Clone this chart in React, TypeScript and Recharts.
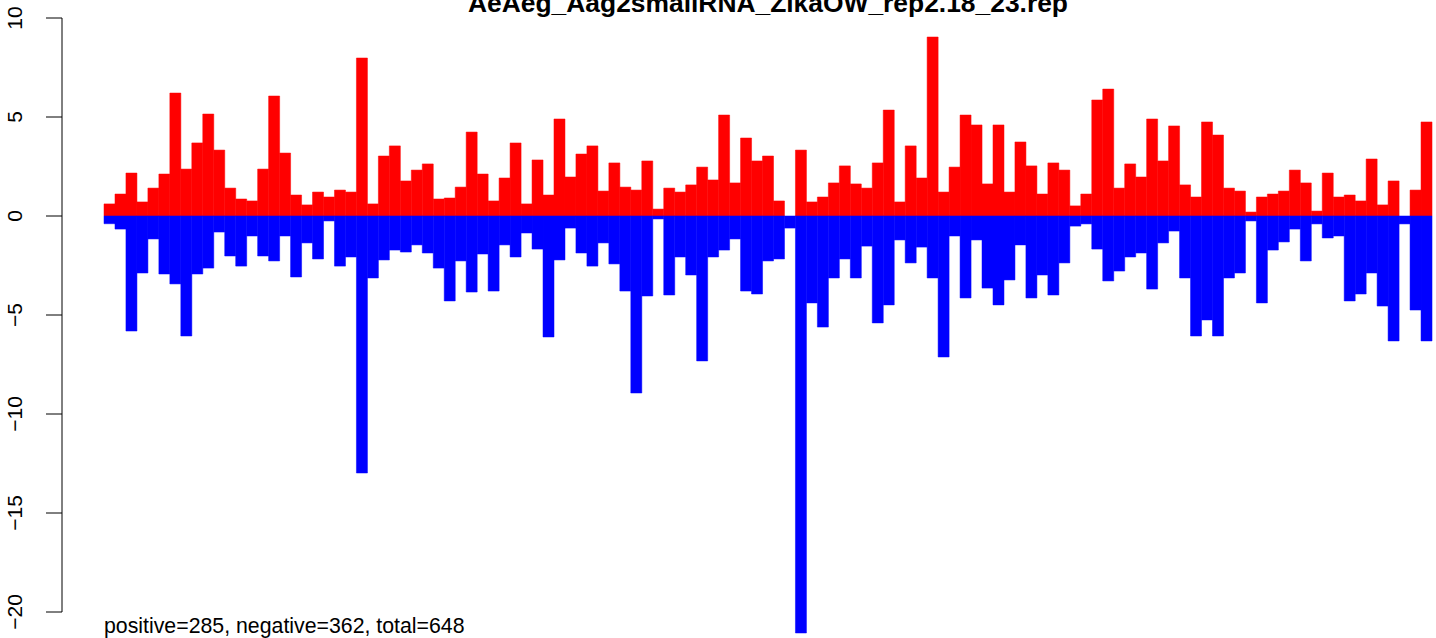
import React from "react";
import { BarChart, Bar, XAxis, YAxis, ComposedChart } from "recharts";

const positions: number[] = Array.from({ length: 121 }, (_, i) => i + 1);

const positiveValues: number[] = [
  0.61, 1.11, 2.17, 0.71, 1.41, 2.12, 6.21, 2.37, 3.69, 5.15,
  3.33, 1.41, 0.86, 0.76, 2.37, 6.06, 3.18, 1.06, 0.56, 1.21,
  0.96, 1.31, 1.21, 7.98, 0.61, 3.03, 3.54, 1.77, 2.32, 2.63,
  0.86, 0.91, 1.46, 4.24, 2.12, 0.76, 1.92, 3.69, 0.61, 2.83,
  1.06, 4.9, 1.97, 3.13, 3.54, 1.26, 2.68, 1.46, 1.31, 2.78,
  0.35, 1.41, 1.21, 1.57, 2.47, 1.82, 5.1, 1.67, 3.94, 2.78,
  3.03, 0.76, 0, 3.33, 0.71, 0.96, 1.67, 2.53, 1.62, 1.41,
  2.68, 5.35, 0.71, 3.54, 1.92, 9.04, 1.21, 2.47, 5.1, 4.6,
  1.62, 4.6, 1.21, 3.74, 2.53, 1.11, 2.68, 2.32, 0.51, 1.11,
  5.86, 6.41, 1.41, 2.63, 1.97, 4.9, 2.78, 4.55, 1.57, 0.96,
  4.75, 4.09, 1.41, 1.26, 0.2, 0.96, 1.11, 1.26, 2.32, 1.67,
  0.25, 2.17, 0.96, 1.06, 0.76, 2.88, 0.56, 1.77, 0, 1.31,
  4.75,
];

const negativeValues: number[] = [
  -0.39, -0.66, -5.81, -2.88, -1.16, -2.93, -3.43, -6.06, -2.93, -2.63,
  -0.81, -2.02, -2.53, -1.01, -2.02, -2.27, -1.01, -3.08, -1.36, -2.17,
  -0.25, -2.53, -2.07, -12.98, -3.13, -2.22, -1.72, -1.82, -1.46, -1.87,
  -2.63, -4.29, -2.27, -3.84, -1.92, -3.79, -1.46, -2.07, -0.86, -1.67,
  -6.11, -2.22, -0.61, -1.87, -2.53, -1.36, -2.42, -3.79, -8.94, -4.04,
  -0.15, -3.99, -2.07, -2.98, -7.32, -2.07, -1.72, -1.16, -3.79, -3.94,
  -2.27, -2.17, -0.61, -21.06, -4.39, -5.61, -3.13, -2.17, -3.13, -1.52,
  -5.4, -4.49, -1.21, -2.37, -1.57, -3.13, -7.12, -1.01, -4.14, -1.21,
  -3.64, -4.49, -3.23, -1.46, -4.14, -2.98, -3.99, -2.37, -0.51, -0.4,
  -1.67, -3.28, -2.78, -2.07, -1.87, -3.69, -1.36, -0.76, -3.13, -6.06,
  -5.25, -6.06, -3.13, -2.88, -0.25, -4.39, -1.72, -1.31, -0.66, -2.27,
  -0.4, -1.11, -1.01, -4.29, -3.94, -2.88, -4.55, -6.31, -0.4, -4.75,
  -6.31,
];

const yTicks: number[] = [-20, -15, -10, -5, 0, 5, 10];
const titleText = "AeAeg_Aag2smallRNA_ZikaOW_rep2.18_23.rep";
const footerText = "positive=285, negative=362, total=648";

const data = positions.map((p, i) => ({
  pos: p,
  plus: positiveValues[i],
  minus: negativeValues[i],
}));

const FONT = "'Liberation Sans', Arial, Helvetica, sans-serif";
const W = 1436;
const H = 638;

const RotTick = (props: any) => {
  const { x, y, payload } = props;
  const bx = x - 22;
  const label = payload.value < 0 ? "\u2212" + Math.abs(payload.value) : String(payload.value);
  return (
    <text
      x={bx}
      y={y}
      transform={`rotate(-90, ${bx}, ${y})`}
      textAnchor="middle"
      fontFamily={FONT}
      fontSize={21}
      fill="#000"
    >
      {label}
    </text>
  );
};

export default function App() {
  return (
    <div style={{ position: "absolute", left: 0, top: 0, width: W, height: H, background: "#fff" }}>
      <div style={{ position: "absolute", left: 0, top: 0 }}>
        <BarChart
          width={W}
          height={H}
          data={data}
          margin={{ top: 0, right: 4, bottom: 0, left: 104 }}
          stackOffset="sign"
          barCategoryGap={0}
          barGap={0}
        >
          <XAxis dataKey="pos" hide />
          <YAxis hide domain={[-21.313, 10.909]} allowDataOverflow type="number" />
          <Bar
            dataKey="plus"
            stackId="s"
            fill="#ff0000"
            stroke="#ff0000"
            strokeWidth={0.5}
            isAnimationActive={false}
          />
          <Bar
            dataKey="minus"
            stackId="s"
            fill="#0000ff"
            stroke="#0000ff"
            strokeWidth={0.5}
            isAnimationActive={false}
          />
        </BarChart>
      </div>
      <div style={{ position: "absolute", left: 0, top: 0 }}>
        <ComposedChart
          width={110}
          height={H}
          data={data}
          margin={{ top: 18, right: 0, bottom: 26, left: 0 }}
        >
          <XAxis dataKey="pos" hide />
          <YAxis
            width={62}
            type="number"
            domain={[-20, 10]}
            allowDataOverflow
            ticks={yTicks}
            interval={0}
            tickSize={16}
            tickMargin={2}
            stroke="#000"
            tick={<RotTick />}
            axisLine={{ stroke: "#000", strokeWidth: 1 }}
            tickLine={{ stroke: "#000", strokeWidth: 1 }}
          />
        </ComposedChart>
      </div>
      <svg
        width={W}
        height={H}
        style={{ position: "absolute", left: 0, top: 0, pointerEvents: "none" }}
      >
        <text
          x={768}
          y={12}
          textAnchor="middle"
          fontFamily={FONT}
          fontWeight="bold"
          fontSize={26.4}
          fill="#000"
        >
          {titleText}
        </text>
        <text x={104} y={633} fontFamily={FONT} fontSize={21.3} fill="#000">
          {footerText}
        </text>
      </svg>
    </div>
  );
}
